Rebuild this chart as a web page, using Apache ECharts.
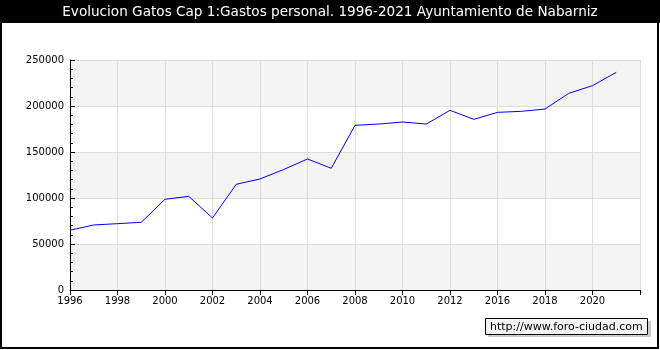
<!DOCTYPE html>
<html><head><meta charset="utf-8">
<script src="https://cdn.jsdelivr.net/npm/echarts@6/dist/echarts.min.js"></script>
<style>html,body{margin:0;padding:0;background:#fff}#c{width:660px;height:350px}</style>
</head><body><div id="c"></div>
<script>
var titleText = 'Evolucion Gatos Cap 1:Gastos personal. 1996-2021 Ayuntamiento de Nabarniz';
var categories = ['1996','1997','1998','1999','2000','2001','2002','2003','2004','2005','2006','2007','2008','2009','2010','2011','2012','2014','2016','2017','2018','2019','2020','2021',''];
var values = [65000,70700,72100,73600,98600,101800,78300,114900,120700,131000,142400,132300,179000,180400,182600,180400,195300,185500,193100,194200,196700,213800,222100,236600,null];
var yTicks = {min:0, max:250000, interval:50000};
var watermark = 'http://www.foro-ciudad.com';

var chart = echarts.init(document.getElementById('c'), null, {renderer:'canvas'});
var font = 'DejaVu Sans';
chart.setOption({
  animation:false,
  backgroundColor:'#fff',
  textStyle:{fontFamily:font},
  grid:{left:70,right:20,top:60,bottom:60,containLabel:false},
  xAxis:{
    type:'category', data:categories, boundaryGap:false,
    axisLine:{show:true,lineStyle:{color:'#000',width:1}},
    axisTick:{show:true,interval:1,length:5,inside:false,lineStyle:{color:'#000'}},
    axisLabel:{interval:1,color:'#000',fontSize:10,fontFamily:font,margin:6},
    splitLine:{show:true,interval:1,lineStyle:{color:'#dddddd',width:1}}
  },
  yAxis:{
    type:'value', min:yTicks.min, max:yTicks.max, interval:yTicks.interval,
    axisLine:{show:true,lineStyle:{color:'#000',width:1}},
    axisTick:{show:true,inside:true,length:5,lineStyle:{color:'#000'}},
    minorTick:{show:true,splitNumber:5,length:3,lineStyle:{color:'#000'}},
    axisLabel:{color:'#000',fontSize:10,fontFamily:font,margin:6,formatter:function(v){return String(v);}},
    splitLine:{show:true,lineStyle:{color:'#dddddd',width:1}},
    splitArea:{show:true,areaStyle:{color:['#f4f4f4','#ffffff']}}
  },
  series:[{
    type:'line', data:values, showSymbol:false, symbol:'none',
    lineStyle:{color:'#0000ff',width:1}, connectNulls:false
  }],
  graphic:[
    {type:'rect',z:100,shape:{x:0,y:0,width:660,height:23},style:{fill:'#000'}},
    {type:'text',z:101,x:330,y:12,style:{text:titleText,fill:'#fff',font:'13.6px "DejaVu Sans"',textAlign:'center',textVerticalAlign:'middle'}},
    {type:'rect',z:100,shape:{x:1,y:1,width:657,height:347},style:{fill:null,stroke:'#000',lineWidth:2}},
    {type:'rect',z:100,shape:{x:488,y:321,width:163,height:16},style:{fill:'#cccccc'}},
    {type:'rect',z:101,shape:{x:485.5,y:318.5,width:162,height:16},style:{fill:'#f4f4f4',stroke:'#000',lineWidth:1}},
    {type:'text',z:102,x:490,y:327,style:{text:watermark,fill:'#000',font:'11px "DejaVu Sans"',textVerticalAlign:'middle'}}
  ]
});
</script></body></html>
